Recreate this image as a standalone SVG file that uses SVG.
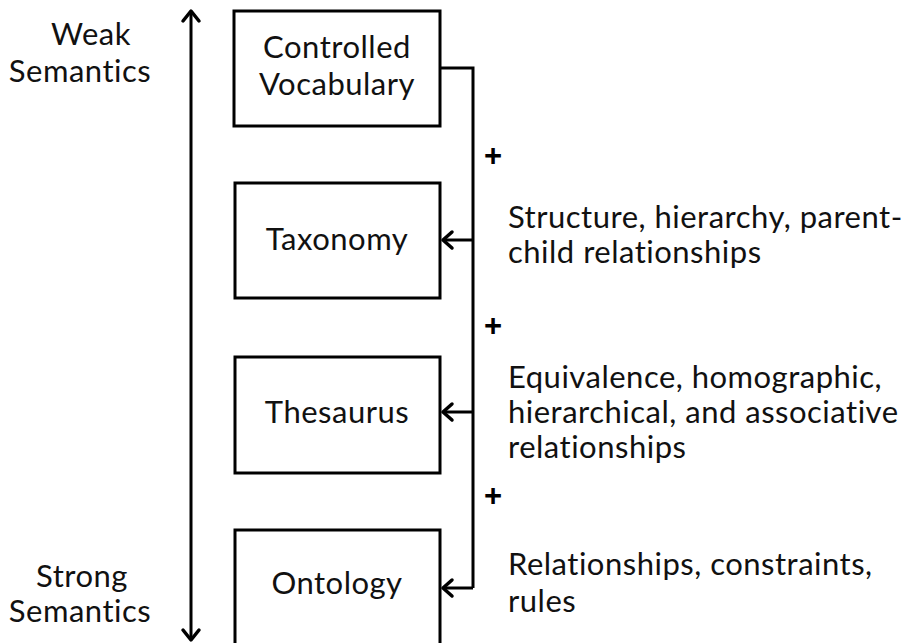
<svg xmlns="http://www.w3.org/2000/svg" width="904" height="643" viewBox="0 0 904 643">
  <style>
    .box { fill: #ffffff; stroke: #000000; stroke-width: 3; }
    .line { fill: none; stroke: #000000; stroke-width: 3; }
    .head { fill: none; stroke: #000000; stroke-width: 3.5; stroke-linecap: round; stroke-linejoin: round; }
    .t { font-family: Lato, "Open Sans", sans-serif; font-size: 31px; letter-spacing: 0.5px; fill: #111111; }
    .c { text-anchor: middle; }
    .plus { font-family: "Liberation Sans", sans-serif; font-size: 31px; font-weight: bold; fill: #000000; text-anchor: middle; }
  </style>
  <rect width="904" height="643" fill="#ffffff"/>

  <!-- semantic scale -->
  <g id="scale">
    <text class="t c" x="91" y="45">Weak</text>
    <text class="t c" x="80" y="82">Semantics</text>
    <text class="t c" x="82" y="587">Strong</text>
    <text class="t c" x="80" y="622">Semantics</text>
    <line class="line" x1="191" y1="12" x2="191" y2="639"/>
    <polyline class="head" points="183,21 191,11 199,21"/>
    <polyline class="head" points="183,630 191,640 199,630"/>
  </g>

  <g id="controlled-vocabulary">
    <rect class="box" x="234" y="11" width="206" height="115"/>
    <text class="t c" x="337" y="58">Controlled</text>
    <text class="t c" x="337" y="95">Vocabulary</text>
  </g>

  <g id="taxonomy">
    <rect class="box" x="235" y="183" width="205" height="115"/>
    <text class="t c" x="337" y="250">Taxonomy</text>
  </g>

  <g id="thesaurus">
    <rect class="box" x="235" y="357" width="205" height="116"/>
    <text class="t c" x="337" y="423">Thesaurus</text>
  </g>

  <g id="ontology">
    <rect class="box" x="235" y="530" width="205" height="120"/>
    <text class="t c" x="337" y="594">Ontology</text>
  </g>

  <!-- connectors -->
  <g id="connectors">
    <polyline class="line" points="440,68 473,68 473,588"/>
    <line class="line" x1="473" y1="240" x2="443" y2="240"/>
    <polyline class="head" points="452,232 443,240 452,248"/>
    <line class="line" x1="473" y1="412" x2="443" y2="412"/>
    <polyline class="head" points="452,404 443,412 452,420"/>
    <line class="line" x1="473" y1="588" x2="443" y2="588"/>
    <polyline class="head" points="452,580 443,588 452,596"/>
  </g>

  <g id="labels">
    <text class="plus" x="493" y="166">+</text>
    <text class="plus" x="493" y="336">+</text>
    <text class="plus" x="493" y="506">+</text>
    <text class="t" x="508" y="228">Structure, hierarchy, parent-</text>
    <text class="t" x="508" y="263">child relationships</text>
    <text class="t" x="508" y="388">Equivalence, homographic,</text>
    <text class="t" x="508" y="423">hierarchical, and associative</text>
    <text class="t" x="508" y="458">relationships</text>
    <text class="t" x="508" y="575">Relationships, constraints,</text>
    <text class="t" x="508" y="612">rules</text>
  </g>
</svg>
